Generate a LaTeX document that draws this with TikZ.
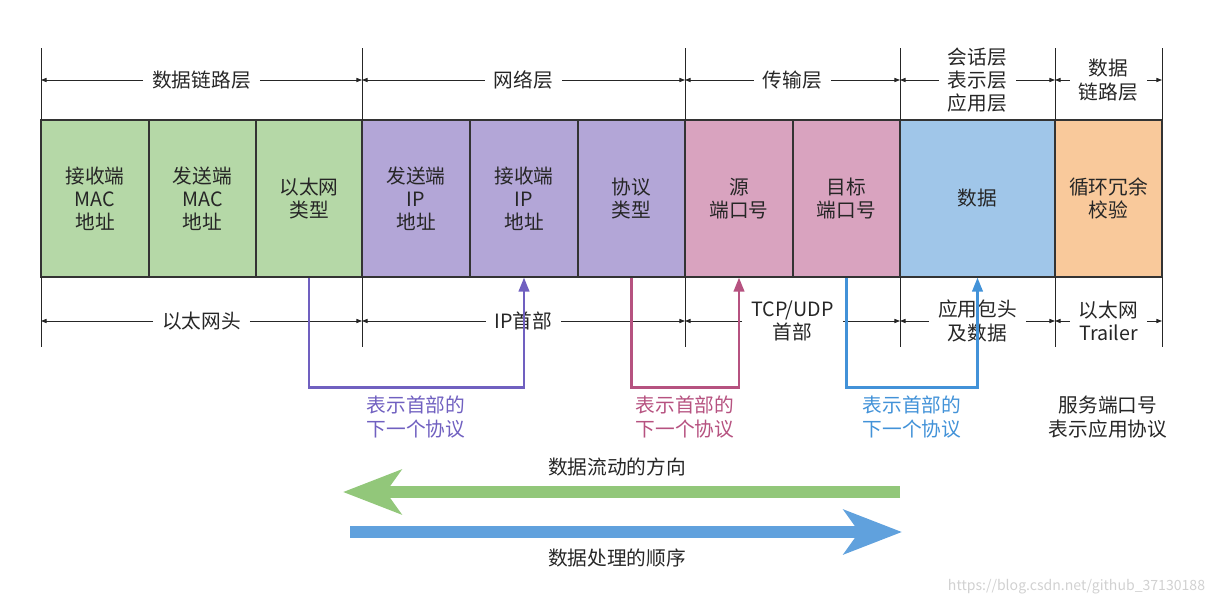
\documentclass[tikz,border=0pt]{standalone}
\usepackage{fontspec}
\setmainfont{Noto Sans CJK SC}
\usetikzlibrary{arrows.meta}

\definecolor{ethgreen}{RGB}{181,216,167}
\definecolor{ippurple}{RGB}{179,166,215}
\definecolor{tcppink}{RGB}{217,163,191}
\definecolor{appblue}{RGB}{160,198,233}
\definecolor{crcorange}{RGB}{249,201,155}
\definecolor{linkpurple}{RGB}{112,96,192}
\definecolor{linkpink}{RGB}{182,82,128}
\definecolor{linkblue}{RGB}{66,146,216}
\definecolor{flowgreen}{RGB}{146,199,122}
\definecolor{flowblue}{RGB}{96,161,221}

\tikzset{
  cell/.style={draw=black!80, line width=0.8pt, minimum height=3.925cm, inner sep=0pt},
  tick/.style={draw=black!85, line width=0.6pt},
  span/.style={draw=black!85, line width=0.6pt, -{Triangle[length=4pt,width=3pt]}},
  spanlabel/.style={inner xsep=0.22cm},
  link/.style={line width=1.7pt, -{Triangle[length=10pt,width=7.5pt]}},
  flow/.style={line width=8.5pt, -{Stealth[length=1.45cm,width=1.1cm,inset=0.38cm]}}
}

\begin{document}
\begin{tikzpicture}[x=0.025cm, y=-0.025cm,
    every node/.style={font=\fontsize{14}{16.5}\selectfont, align=center, text=black!85}]
    \useasboundingbox (0,0) rectangle (1217,607);

    % Felder des Rahmens
    \foreach \nm/\xa/\xb/\col/\txt in {
        mac1/41/149/ethgreen/{接收端\\MAC\\地址},
        mac2/149/256/ethgreen/{发送端\\MAC\\地址},
        etype/256/362/ethgreen/{以太网\\类型},
        ipsrc/362/470/ippurple/{发送端\\IP\\地址},
        ipdst/470/578/ippurple/{接收端\\IP\\地址},
        proto/578/685/ippurple/{协议\\类型},
        sport/685/793/tcppink/{源\\端口号},
        dport/793/900/tcppink/{目标\\端口号},
        data/900/1055/appblue/{数据},
        crc/1055/1162/crcorange/{循环冗余\\校验}}
        \node[cell, fill=\col, minimum width={(\xb-\xa)*0.025cm}] (\nm) at ({(\xa+\xb)/2},198.5) {\txt};

    % Grenzlinien oben und unten
    \foreach \x in {41,362,685,900,1055,1162} {
        \draw[tick] (\x,48) -- (\x,120);
        \draw[tick] (\x,277) -- (\x,347);
    }

    % Schichten oben, Köpfe unten
    \foreach \nm/\xa/\xb/\y/\txt in {
        dll/41/362/80/{数据链路层},
        net/362/685/80/{网络层},
        trans/685/900/80/{传输层},
        upper/900/1055/80/{会话层\\表示层\\应用层},
        dll2/1055/1162/80/{数据\\链路层},
        ethhdr/41/362/321/{以太网头},
        iphdr/362/685/321/{IP首部},
        tcphdr/685/900/321/{TCP/UDP\\首部},
        apphdr/900/1055/321/{应用包头\\及数据},
        ethtrl/1055/1162/321/{以太网\\Trailer}} {
        \node[spanlabel] (\nm) at ({(\xa+\xb)/2},\y) {\txt};
        \draw[span] (\nm.west) -- (\xa,\y);
        \draw[span] (\nm.east) -- (\xb,\y);
    }

    % Verweise auf das nächste Protokoll
    \draw[link, linkpurple] (etype.south) -- ++(0,110) -| (ipdst.south);
    \draw[link, linkpink] (proto.south) -- ++(0,110) -| (sport.south);
    \draw[link, linkblue] (dport.south) -- ++(0,110) -| (data.south);
    \node[text=linkpurple] (ipnote) at (416,417) {表示首部的\\下一个协议};
    \node[text=linkpink] (tcpnote) at (685,417) {表示首部的\\下一个协议};
    \node[text=linkblue] (appnote) at (912,417) {表示首部的\\下一个协议};
    \node (portnote) at (1108,417) {服务端口号\\表示应用协议};

    % Richtungspfeile
    \coordinate (gR) at (900,492);
    \coordinate (gL) at (343,492);
    \coordinate (bL) at (350,532);
    \coordinate (bR) at (902,532);
    \draw[flow, flowgreen] (gR) -- (gL);
    \draw[flow, flowblue] (bL) -- (bR);
    \node (flowtxt) at (617,467) {数据流动的方向};
    \node (ordtxt) at (617,558) {数据处理的顺序};

    \node[anchor=east, text=black!18, font=\fontsize{10}{12}\selectfont] (mark) at (1210,587) {https://blog.csdn.net/github\_37130188};
\end{tikzpicture}
\end{document}
